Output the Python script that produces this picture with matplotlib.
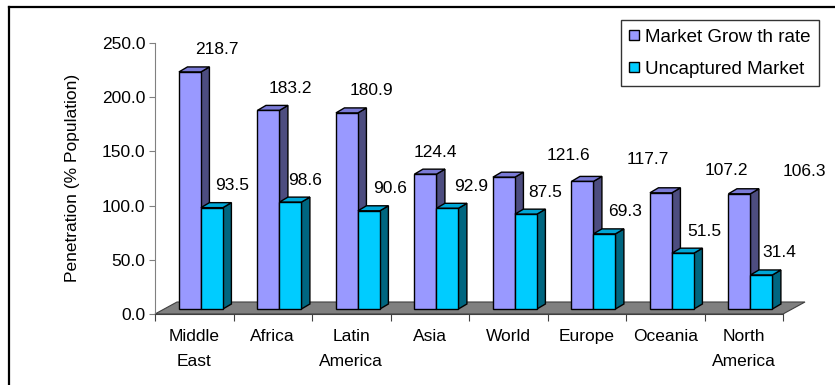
import numpy as np
import matplotlib
matplotlib.use('Agg')
import matplotlib.pyplot as plt
from matplotlib.patches import Polygon
from matplotlib.lines import Line2D

# data
regions = ['Middle\nEast', 'Africa', 'Latin\nAmerica', 'Asia', 'World', 'Europe', 'Oceania', 'North\nAmerica']
growth = [218.7, 183.2, 180.9, 124.4, 121.6, 117.7, 107.2, 106.3]
uncaptured = [93.5, 98.6, 90.6, 92.9, 87.5, 69.3, 51.5, 31.4]
series_names = ['Market Grow th rate', 'Uncaptured Market']

plt.rcParams['font.family'] = ['Liberation Sans', 'DejaVu Sans']
fs = 12.5

fig = plt.figure(figsize=(8.35, 3.85), dpi=100)
ax = fig.add_axes([155/835, 1-314/385, (783-155)/835, (314-43)/385])
ax.set_xlim(0, 8)
ax.set_ylim(0, 250)

# pixel -> data conversions for the fake 3d depth
px_x = 8/628.0
px_y = 250/271.0
floor_dx, floor_dy = 22*px_x, 12*px_y
bar_base = 5*px_y          # bars sit a little back on the floor
side_dx, side_dy = 8.5*px_x, 5*px_y
w = 0.28

# floor
floor = Polygon([(0, 0), (8, 0), (8+floor_dx, floor_dy), (floor_dx, floor_dy)],
                closed=True, facecolor='#808080', edgecolor='#404040', lw=0.8,
                clip_on=False, zorder=1)
ax.add_patch(floor)

x = np.arange(len(regions))
series = [(growth, x+0.305, '#9999FF', '#4D4D80', '#7A7AD6'),
          (uncaptured, x+0.305+w, '#00CCFF', '#006680', '#00A6D6')]

z = 2
for vals, lefts, front, side, top in series:
    ax.bar(lefts, vals, width=w, bottom=bar_base, align='edge', color=front,
           edgecolor='black', lw=1, zorder=z+0.5)
    for l, v in zip(lefts, vals):
        t = bar_base + v
        r = l + w
        ax.add_patch(Polygon([(r, bar_base), (r+side_dx, bar_base+side_dy),
                              (r+side_dx, t+side_dy), (r, t)],
                             facecolor=side, edgecolor='black', lw=1, zorder=z))
        ax.add_patch(Polygon([(l, t), (l+side_dx, t+side_dy),
                              (r+side_dx, t+side_dy), (r, t)],
                             facecolor=top, edgecolor='black', lw=1, zorder=z))
    z += 1

# data labels (pixel offsets from top centre of front face)
g_off = [27, 22, 25, 10, 65, 65, 65, 65]
u_off = [20, 15, 21, 24, 19, 21, 21, 18]
for i in range(len(regions)):
    ax.annotate('%.1f' % growth[i], (x[i]+0.305+w/2, bar_base+growth[i]),
                xytext=(g_off[i], 22), textcoords='offset pixels',
                ha='center', va='center', fontsize=fs, zorder=10)
    ax.annotate('%.1f' % uncaptured[i], (x[i]+0.305+1.5*w, bar_base+uncaptured[i]),
                xytext=(u_off[i], 22), textcoords='offset pixels',
                ha='center', va='center', fontsize=fs, zorder=10)

# axes styling
for s in ['top', 'right']:
    ax.spines[s].set_visible(False)
ax.spines['left'].set_color('#808080')
ax.spines['bottom'].set_color('#404040')
ax.set_yticks(np.arange(0, 251, 50))
ax.set_yticklabels(['%.1f' % v for v in np.arange(0, 251, 50)], fontsize=fs)
ax.tick_params(axis='y', length=4, color='#808080', pad=3)
ax.set_xticks(np.arange(0, 9))
ax.set_xticklabels([])
ax.tick_params(axis='x', which='major', length=5, color='#404040')
ax.set_xticks(x+0.5, minor=True)
ax.set_xticklabels(regions, minor=True, fontsize=fs, linespacing=1.85)
ax.tick_params(axis='x', which='minor', length=0, pad=11)
ax.patch.set_alpha(0)

fig.text(72/835, 1-178/385, 'Penetration (% Population)', rotation=90,
         ha='center', va='center', fontsize=fs)

# legend
handles = [Line2D([], [], marker='s', ls='none', markersize=7, markerfacecolor=c,
                  markeredgecolor='black', markeredgewidth=1)
           for c in ['#9999FF', '#00CCFF']]
leg = fig.legend(handles, series_names, loc='upper right',
                 bbox_to_anchor=(819/835, 1-20/385), fontsize=13.5, frameon=True,
                 fancybox=False, edgecolor='black', handlelength=0.5,
                 handletextpad=0.35, labelspacing=0.8, borderpad=0.45,
                 borderaxespad=0)
leg.get_frame().set_linewidth(1)

# chart area frame (top and left edges visible)
fig.add_artist(Line2D([9/835, 9/835], [0, 1-7/385], color='black', lw=1.6,
                      transform=fig.transFigure))
fig.add_artist(Line2D([9/835, 1], [1-7/385, 1-7/385], color='black', lw=1.6,
                      transform=fig.transFigure))

fig.savefig('out.png', dpi=100)
